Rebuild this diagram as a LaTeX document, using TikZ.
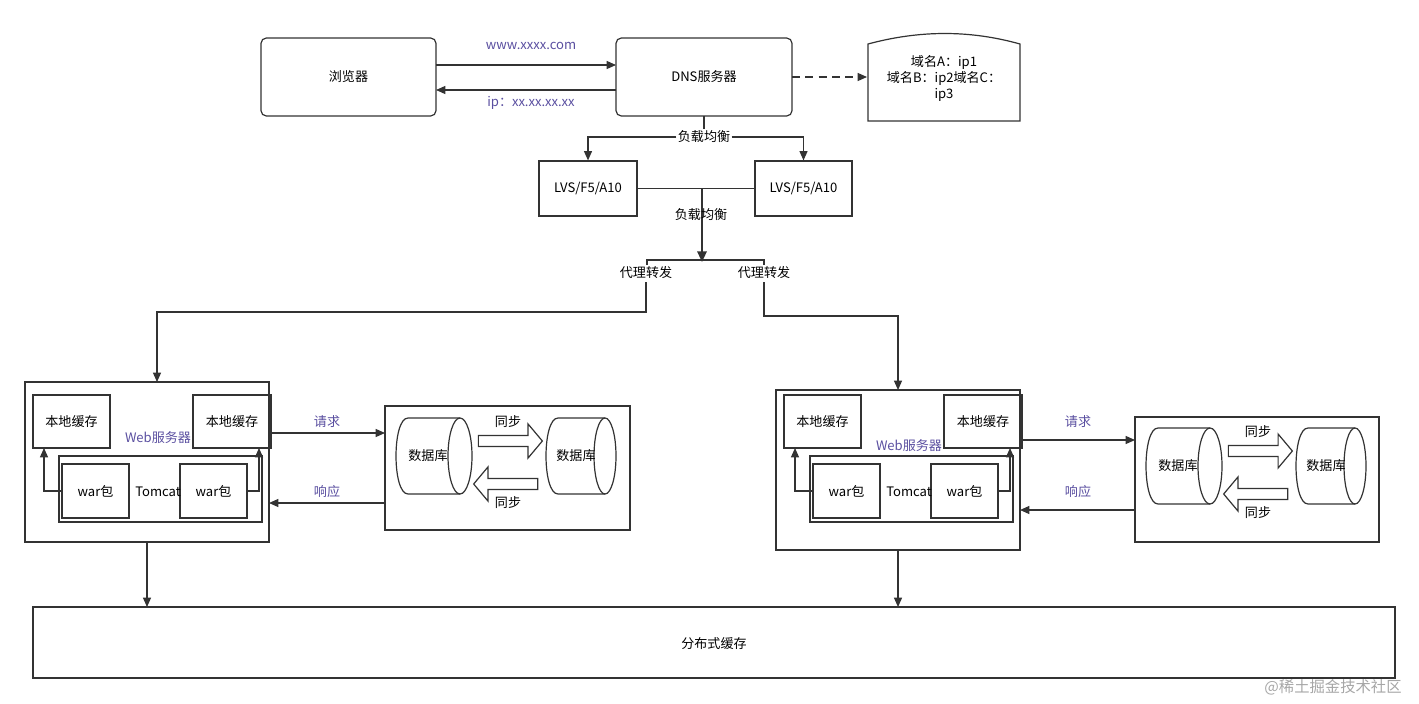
\documentclass[tikz,border=0pt]{standalone}
\usepackage{fontspec}
\setmainfont{Noto Sans CJK SC}
\usetikzlibrary{shapes.geometric,shapes.arrows,arrows.meta}
\definecolor{lbl}{HTML}{5A4FA0}
\definecolor{ln}{HTML}{333333}
\begin{document}
\begin{tikzpicture}[x=0.75pt,y=-0.75pt,font=\fontsize{9.8}{12}\selectfont,
  box/.style={draw=ln,line width=0.9pt,inner sep=0pt},
  arr/.style={draw=ln,line width=0.9pt,-{Triangle[length=7pt,width=6pt]}},
  ln/.style={draw=ln,line width=0.9pt},
  plbl/.style={text=lbl},
  blk/.style={single arrow,draw=ln,line width=0.9pt,minimum height=64*0.75pt,minimum width=34*0.75pt,single arrow head extend=5pt,single arrow tip angle=100,inner sep=2pt}]
\useasboundingbox (0,0) rectangle (1419,703);
% top
\draw[box,rounded corners=4pt] (261,38) rectangle (436,116) node[midway] (br) {浏览器};
\draw[box,rounded corners=4pt] (616,38) rectangle (792,116) node[midway] (dns) {DNS服务器};
\coordinate (dnsL1) at (616,65); \coordinate (brR1) at (436,65);
\coordinate (dnsL2) at (616,90); \coordinate (brR2) at (436,90);
\draw[arr] (brR1) -- (dnsL1);
\draw[arr] (dnsL2) -- (brR2);
\node[plbl] (l1) at (531,46) {www.xxxx.com};
\node[plbl] (l2) at (531,103) {ip：xx.xx.xx.xx};
\draw[box] (868,121) -- (868,44) .. controls (920,30) and (970,30) .. (1020,44) -- (1020,121) -- cycle;
\node[align=center,inner sep=0pt] (note) at (944,78) {域名A：ip1\\域名B：ip2域名C：\\ip3};
\coordinate (dnsR) at (792,77); \coordinate (noteL) at (867,77);
\draw[arr,dashed,dash pattern=on 6pt off 4pt] (dnsR) -- (noteL);
% LVS
\node[box,minimum width=98*0.75pt,minimum height=55*0.75pt] (lvs1) at (588,188.5) {LVS/F5/A10};
\node[box,minimum width=97*0.75pt,minimum height=55*0.75pt] (lvs2) at (803.5,188.5) {LVS/F5/A10};
\node[fill=white,inner sep=1pt] (lb1) at (704,137) {负载均衡};
\draw[ln] (704,116) -- (lb1.north);
\draw[arr] (lb1.west) -| (lvs1.north);
\draw[arr] (lb1.east) -| (lvs2.north);
\draw[ln] (lvs1.east) -- (lvs2.west);
\coordinate (split) at (702,262);
\draw[ln,line width=1.6pt,-{Triangle[length=8pt,width=7pt]}] (702,188) -- (split);
\node[inner sep=1pt] (lb2) at (701,215) {负载均衡};
\draw[ln] (647,265) -- (647,260) -- (764,260) -- (764,265);
\node (p1) at (646,273) {代理转发};
\node (p2) at (764,273) {代理转发};
% web servers
\foreach \dx/\dy/\n in {0/0/A, 751/8/B}{
\begin{scope}[shift={(\dx,0)}]
\draw[box] (25,382+\dy) rectangle (269,542+\dy);
\node[box,minimum width=77*0.75pt,minimum height=53*0.75pt] (c1\n) at (71.5,421.5) {本地缓存};
\node[box,minimum width=78*0.75pt,minimum height=53*0.75pt] (c2\n) at (232,421.5) {本地缓存};
\node[plbl] (w\n) at (158,438+\dy) {Web服务器};
\draw[box] (59,456) rectangle (262,522);
\node[box,minimum width=67*0.75pt,minimum height=54*0.75pt] (wa1\n) at (95.5,491) {war包};
\node[box,minimum width=67*0.75pt,minimum height=54*0.75pt] (wa2\n) at (213.5,491) {war包};
\node (t\n) at (158,492) {Tomcat};
\draw[arr] (wa1\n.west) -| (44,448);
\draw[arr] (wa2\n.east) -| (259,448);
\end{scope}}
% db boxes
\draw[box] (385,406) rectangle (630,530);
\draw[box] (1135,417) rectangle (1379,542);
\foreach \dx/\dy/\n in {0/0/A, 750/10/B}{
\begin{scope}[shift={(\dx,\dy)}]
\draw[box] (460,418) -- (408,418) .. controls (392,418) and (392,494) .. (408,494) -- (460,494);
\draw[box] (460,456) ellipse [x radius=12,y radius=38];
\node (d1\n) at (428,456) {数据库};
\draw[box] (605,418) -- (558,418) .. controls (542,418) and (542,494) .. (558,494) -- (605,494);
\draw[box] (605,456) ellipse [x radius=11,y radius=38];
\node (d2\n) at (576,456) {数据库};
\node[blk] (s1\n) at (508,441) {};
\node[blk,shape border rotate=180] (s2\n) at (508,484) {};
\node (sy1\n) at (508,422) {同步};
\node (sy2\n) at (508,503) {同步};
\end{scope}}
\coordinate (dbA) at (385,433); \coordinate (wsA) at (269,503);
\coordinate (dbB) at (1135,440); \coordinate (wsB) at (1020,510);
\draw[arr] (c2A.east |- dbA) -- (dbA);
\draw[arr] (385,503) -- (wsA);
\draw[arr] (1022,440) -- (dbB);
\draw[arr] (1135,510) -- (wsB);
\node[plbl] (rq1) at (327,422) {请求};
\node[plbl] (rs1) at (327,492) {响应};
\node[plbl] (rq2) at (1078,422) {请求};
\node[plbl] (rs2) at (1078,492) {响应};
% proxy connectors
\coordinate (wsAtop) at (157,382); \coordinate (wsBtop) at (898,390);
\draw[arr] (646,282) -- (646,312) -| (wsAtop);
\draw[arr] (764,282) -- (764,316) -| (wsBtop);
% bottom
\draw[box] (33,607) rectangle (1395,678);
\node (dc) at (714,644) {分布式缓存};
\draw[arr] (147,542) -- (147,607);
\draw[arr] (898,550) -- (898,607);
\node[text=gray!70,font=\fontsize{11.5}{13}\selectfont] (wm) at (1333,687) {@稀土掘金技术社区};
\end{tikzpicture}
\end{document}
